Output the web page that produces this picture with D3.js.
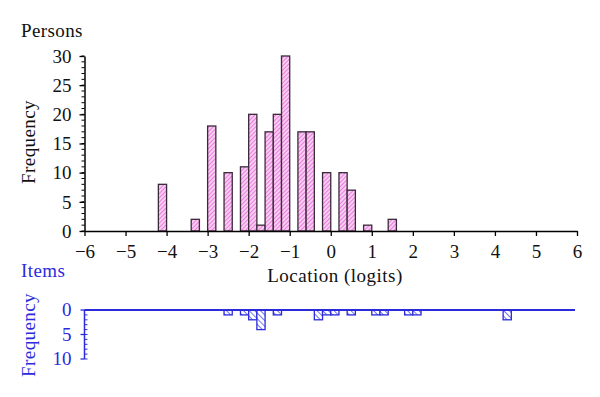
<!DOCTYPE html>
<html>
<head>
<meta charset="utf-8">
<script src="https://cdn.jsdelivr.net/npm/d3@7"></script>
<style>
body { margin: 0; background: #fff; }
svg text { font-family: "Liberation Serif", serif; }
</style>
</head>
<body>
<svg id="chart" width="600" height="397"></svg>
<script>
// persons: bin centres (logits) and counts
var personBins = [-4.1, -3.3, -2.9, -2.5, -2.1, -1.9, -1.7, -1.5, -1.3, -1.1, -0.7, -0.5, -0.1, 0.3, 0.5, 0.9, 1.5]
var personCounts = [8, 2, 18, 10, 11, 20, 1, 17, 20, 30, 17, 17, 10, 10, 7, 1, 2]

// items: bin centres and counts
var itemBins = [-2.5, -2.1, -1.9, -1.7, -1.3, -0.3, -0.1, 0.1, 0.5, 1.1, 1.3, 1.9, 2.1, 4.3]
var itemCounts = [1, 1, 2, 4, 1, 2, 1, 1, 1, 1, 1, 1, 1, 2]

var xTicks = [-6, -5, -4, -3, -2, -1, 0, 1, 2, 3, 4, 5, 6]
var yTicks = [0, 5, 10, 15, 20, 25, 30]
var itemTicks = [0, 5, 10]
var binWidth = 0.2

var blue = "#2b2bdc"
var fs = 19
var svg = d3.select("#chart")

var defs = svg.append("defs")
var pp = defs.append("pattern")
    .attr("id", "pinkHatch")
    .attr("patternUnits", "userSpaceOnUse")
    .attr("width", 3).attr("height", 3)
    .attr("patternTransform", "rotate(45)")
pp.append("rect").attr("width", 3).attr("height", 3).attr("fill", "#f8cdf1")
pp.append("line").attr("x1", 0).attr("y1", 0).attr("x2", 0).attr("y2", 3)
    .attr("stroke", "#e35ad5").attr("stroke-width", 1.4)

var bp = defs.append("pattern")
    .attr("id", "blueHatch")
    .attr("patternUnits", "userSpaceOnUse")
    .attr("width", 4).attr("height", 4)
    .attr("patternTransform", "rotate(-45)")
bp.append("rect").attr("width", 4).attr("height", 4).attr("fill", "#fff")
bp.append("line").attr("x1", 0).attr("y1", 0).attr("x2", 0).attr("y2", 4)
    .attr("stroke", blue).attr("stroke-width", 1.3)

var x = d3.scaleLinear().domain([-6, 6]).range([84.5, 577])
var y = d3.scaleLinear().domain([0, 30]).range([231, 56])
var yi = d3.scaleLinear().domain([0, 10]).range([310, 359])

var bw = x(binWidth) - x(0)

// ---- persons histogram ----
var g = svg.append("g")
g.selectAll(".pbar")
    .data(personBins)
    .enter()
    .append("rect")
    .attr("class", "pbar")
    .attr("x", function (d) { return x(d) - bw / 2 })
    .attr("y", function (d, i) { return y(personCounts[i]) })
    .attr("width", bw)
    .attr("height", function (d, i) { return y(0) - y(personCounts[i]) })
    .attr("fill", "url(#pinkHatch)")
    .attr("stroke", "#3b2a3b")
    .attr("stroke-width", 1.3)

// x axis
var xAxis = d3.axisBottom(x).tickValues(xTicks).tickSize(5).tickSizeOuter(0)
    .tickFormat(function (d) { return d < 0 ? "\u2212" + Math.abs(d) : d })
var gx = svg.append("g").attr("transform", "translate(0," + y(0) + ")").call(xAxis)
gx.select(".domain").attr("stroke-width", 1.5)
gx.selectAll(".tick line").attr("stroke-width", 1.3)
gx.selectAll("text").attr("font-size", fs).attr("dy", 0).attr("y", 27).attr("fill", "#111")

// y axis with minor ticks
var gy = svg.append("g").attr("transform", "translate(" + x(-6) + ",0)")
gy.selectAll(".minor")
    .data(d3.range(0, 31))
    .enter()
    .append("line")
    .attr("x1", -3).attr("x2", 0)
    .attr("y1", function (d) { return y(d) }).attr("y2", function (d) { return y(d) })
    .attr("stroke", "#000").attr("stroke-width", 1)
var yAxis = d3.axisLeft(y).tickValues(yTicks).tickSize(5).tickSizeOuter(0)
gy.call(yAxis)
gy.select(".domain").attr("stroke-width", 1.5)
gy.selectAll(".tick line").attr("stroke-width", 1.3)
gy.selectAll(".tick text").attr("font-size", fs).attr("x", -13).attr("dy", "0.33em").attr("fill", "#111")

svg.append("text").attr("x", 21).attr("y", 37).attr("font-size", fs)
    .attr("letter-spacing", 0.4).attr("fill", "#111").text("Persons")
svg.append("text")
    .attr("transform", "translate(35,142) rotate(-90)")
    .attr("text-anchor", "middle").attr("font-size", fs)
    .attr("letter-spacing", 0.4).attr("fill", "#111")
    .text("Frequency")
svg.append("text").attr("x", 335).attr("y", 282).attr("text-anchor", "middle")
    .attr("font-size", fs).attr("letter-spacing", 0.5).attr("fill", "#111")
    .text("Location (logits)")

// ---- items histogram ----
svg.selectAll(".ibar")
    .data(itemBins)
    .enter()
    .append("rect")
    .attr("class", "ibar")
    .attr("x", function (d) { return x(d) - bw / 2 })
    .attr("y", yi(0))
    .attr("width", bw)
    .attr("height", function (d, i) { return yi(itemCounts[i]) - yi(0) })
    .attr("fill", "url(#blueHatch)")
    .attr("stroke", blue)
    .attr("stroke-width", 1.3)

svg.append("line")
    .attr("x1", x(-6)).attr("x2", x(6) - 2)
    .attr("y1", yi(0)).attr("y2", yi(0))
    .attr("stroke", blue).attr("stroke-width", 1.8)

var gi = svg.append("g").attr("transform", "translate(" + x(-6) + ",0)")
gi.append("line").attr("x1", 0).attr("x2", 0).attr("y1", yi(0)).attr("y2", yi(10))
    .attr("stroke", blue).attr("stroke-width", 1.5)
gi.selectAll(".minor")
    .data(d3.range(0, 11))
    .enter()
    .append("line")
    .attr("x1", 0).attr("x2", 3)
    .attr("y1", function (d) { return yi(d) }).attr("y2", function (d) { return yi(d) })
    .attr("stroke", blue).attr("stroke-width", 1)
gi.selectAll(".major")
    .data(itemTicks)
    .enter()
    .append("line")
    .attr("x1", -4).attr("x2", 0)
    .attr("y1", function (d) { return yi(d) }).attr("y2", function (d) { return yi(d) })
    .attr("stroke", blue).attr("stroke-width", 1.3)
gi.selectAll(".lab")
    .data(itemTicks)
    .enter()
    .append("text")
    .attr("x", -13)
    .attr("y", function (d) { return yi(d) })
    .attr("dy", "0.33em")
    .attr("text-anchor", "end")
    .attr("font-size", fs)
    .attr("fill", blue)
    .text(function (d) { return d })

svg.append("text").attr("x", 21).attr("y", 277).attr("font-size", fs)
    .attr("letter-spacing", 0.4).attr("fill", blue).text("Items")
svg.append("text")
    .attr("transform", "translate(35,335) rotate(-90)")
    .attr("text-anchor", "middle").attr("font-size", fs)
    .attr("letter-spacing", 0.4).attr("fill", blue)
    .text("Frequency")
</script>
</body>
</html>
